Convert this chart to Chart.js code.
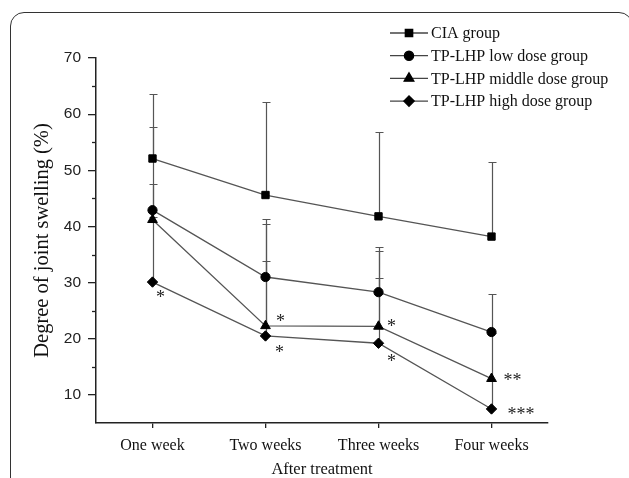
<!DOCTYPE html>
<html><head><meta charset="utf-8">
<script src="https://cdn.jsdelivr.net/npm/chart.js@4.4.1/dist/chart.umd.min.js"></script>
<style>
html,body{margin:0;padding:0;background:#fff;}
#wrap{position:relative;width:629px;height:478px;overflow:hidden;background:#fff;}
#frame{position:absolute;left:10px;top:12px;width:623px;height:520px;border:1.5px solid #333;border-radius:14px;box-sizing:border-box;}
canvas{position:absolute;left:0;top:0;}
</style></head><body>
<div id="wrap"><div id="frame"></div><canvas id="c" width="629" height="478"></canvas></div>
<script>
// ---- data ----
const categories = ['One week', 'Two weeks', 'Three weeks', 'Four weeks'];
const seriesNames = ['CIA group', 'TP-LHP low dose group', 'TP-LHP middle dose group', 'TP-LHP high dose group'];
const ciaValues    = [52.1, 45.6, 41.8, 38.2];
const lowValues    = [42.9, 31.0, 28.3, 21.2];
const middleValues = [41.2, 22.3, 22.2, 12.9];
const highValues   = [30.1, 20.5, 19.2, 7.5];
const ciaSD    = [11.5, 16.5, 15.1, 13.3];
const lowSD    = [14.9, 10.4, 8.1, 6.7];
const middleSD = [6.3, 18.2, 13.5, 8.1];
const highSD   = [11.5, 13.3, 11.7, 5.0];
const yTickValues = [10, 20, 30, 40, 50, 60, 70];
const yMinorTickValues = [15, 25, 35, 45, 55, 65];
const sigMarks = [
  {series: 3, index: 0, text: '*'},
  {series: 2, index: 1, text: '*'},
  {series: 3, index: 1, text: '*'},
  {series: 2, index: 2, text: '*'},
  {series: 3, index: 2, text: '*'},
  {series: 2, index: 3, text: '**'},
  {series: 3, index: 3, text: '***'}
];

// ---- styling / layout ----
const serif = '"Liberation Serif", "Times New Roman", serif';
const sans = '"Liberation Sans", Arial, sans-serif';
const pointStyles = ['rect', 'circle', 'triangle', 'rectRot'];
const pointRadii = [5.2, 4.6, 5.6, 5.2];
const allValues = [ciaValues, lowValues, middleValues, highValues];
const allSD = [ciaSD, lowSD, middleSD, highSD];
// offsets of significance marks relative to their point (layout only)
const sigOffsets = [
  {dx: 8, dy: 16, align: 'center'},
  {dx: 15, dy: -4, align: 'center'},
  {dx: 14, dy: 17, align: 'center'},
  {dx: 13, dy: 1, align: 'center'},
  {dx: 13, dy: 19, align: 'center'},
  {dx: 12, dy: 3, align: 'left'},
  {dx: 16, dy: 6, align: 'left'}
];

const extras = {
  id: 'extras',
  beforeDatasetsDraw(chart) {
    const {ctx, scales: {x, y}} = chart;
    ctx.save();
    ctx.strokeStyle = '#555';
    ctx.lineWidth = 1.2;
    allValues.forEach((vals, s) => {
      vals.forEach((v, i) => {
        const sd = allSD[s][i];
        if (!sd) return;
        const px = Math.round(x.getPixelForValue(i)) + 0.5;
        const y0 = y.getPixelForValue(v);
        const y1 = Math.round(y.getPixelForValue(v + sd)) + 0.5;
        ctx.beginPath();
        ctx.moveTo(px, y0); ctx.lineTo(px, y1);
        ctx.moveTo(px - 4, y1); ctx.lineTo(px + 4, y1);
        ctx.stroke();
      });
    });
    ctx.strokeStyle = '#222';
    ctx.lineWidth = 1.3;
    yMinorTickValues.forEach(v => {
      const py = Math.round(y.getPixelForValue(v)) + 0.5;
      ctx.beginPath();
      ctx.moveTo(x.left - 4, py); ctx.lineTo(x.left, py);
      ctx.stroke();
    });
    ctx.restore();
  },
  afterDraw(chart) {
    const {ctx, scales: {x, y}} = chart;
    ctx.save();
    // significance marks
    ctx.fillStyle = '#222';
    ctx.font = '18px ' + serif;
    ctx.textBaseline = 'middle';
    sigMarks.forEach((m, k) => {
      const o = sigOffsets[k];
      const px = x.getPixelForValue(m.index);
      const py = y.getPixelForValue(allValues[m.series][m.index]);
      ctx.textAlign = o.align;
      ctx.fillText(m.text, px + o.dx, py + o.dy);
    });
    // legend
    const lx0 = 390, lx1 = 428, ly0 = 33, step = 22.7;
    ctx.textAlign = 'left';
    ctx.font = '16px ' + serif;
    chart.data.datasets.forEach((ds, i) => {
      const ly = ly0 + i * step;
      ctx.strokeStyle = '#444';
      ctx.lineWidth = 1.3;
      ctx.beginPath(); ctx.moveTo(lx0, ly); ctx.lineTo(lx1, ly); ctx.stroke();
      ctx.fillStyle = '#000';
      ctx.strokeStyle = '#000';
      Chart.helpers.drawPoint(ctx, {pointStyle: ds.pointStyle, radius: ds.pointRadius, rotation: 0, borderWidth: 1}, (lx0 + lx1) / 2, ly);
      ctx.fillStyle = '#111';
      ctx.fillText(ds.label, 431, ly + 1);
    });
    ctx.restore();
  }
};

const datasets = allValues.map((vals, i) => ({
  label: seriesNames[i],
  data: vals,
  borderColor: '#555',
  borderWidth: 1.3,
  pointStyle: pointStyles[i],
  pointRadius: pointRadii[i],
  pointBackgroundColor: '#000',
  pointBorderColor: '#000',
  pointBorderWidth: 1,
  tension: 0,
  fill: false
}));

new Chart(document.getElementById('c'), {
  type: 'line',
  data: {labels: categories, datasets},
  plugins: [extras],
  options: {
    responsive: false,
    animation: false,
    layout: {padding: {left: 0, top: 58, right: 81, bottom: 0}},
    plugins: {legend: {display: false}, tooltip: {enabled: false}},
    scales: {
      x: {
        type: 'category',
        offset: true,
        afterFit(s) { s.height = 55; },
        grid: {display: true, drawOnChartArea: false, drawTicks: true, tickLength: 5, offset: false, color: '#222', lineWidth: 1.3},
        border: {display: true, color: '#222', width: 1.5},
        ticks: {color: '#111', font: {family: serif, size: 16}, padding: 8, maxRotation: 0, autoSkip: false},
        title: {display: true, text: 'After treatment', color: '#111', font: {family: serif, size: 16.5, lineHeight: 1}, padding: {top: 0, bottom: 0}}
      },
      y: {
        min: 5, max: 70,
        afterFit(s) { s.width = 96; },
        afterBuildTicks(s) { s.ticks = yTickValues.map(v => ({value: v})); },
        grid: {display: true, drawOnChartArea: false, drawTicks: true, tickLength: 8, color: '#222', lineWidth: 1.3},
        border: {display: true, color: '#222', width: 1.5},
        ticks: {color: '#222', font: {family: sans, size: 15.5}, padding: 7},
        title: {display: true, text: 'Degree of joint swelling (%)', color: '#111', font: {family: serif, size: 20.5, lineHeight: 1}, padding: {top: 32, bottom: 0}}
      }
    }
  }
});
</script>
</body></html>
